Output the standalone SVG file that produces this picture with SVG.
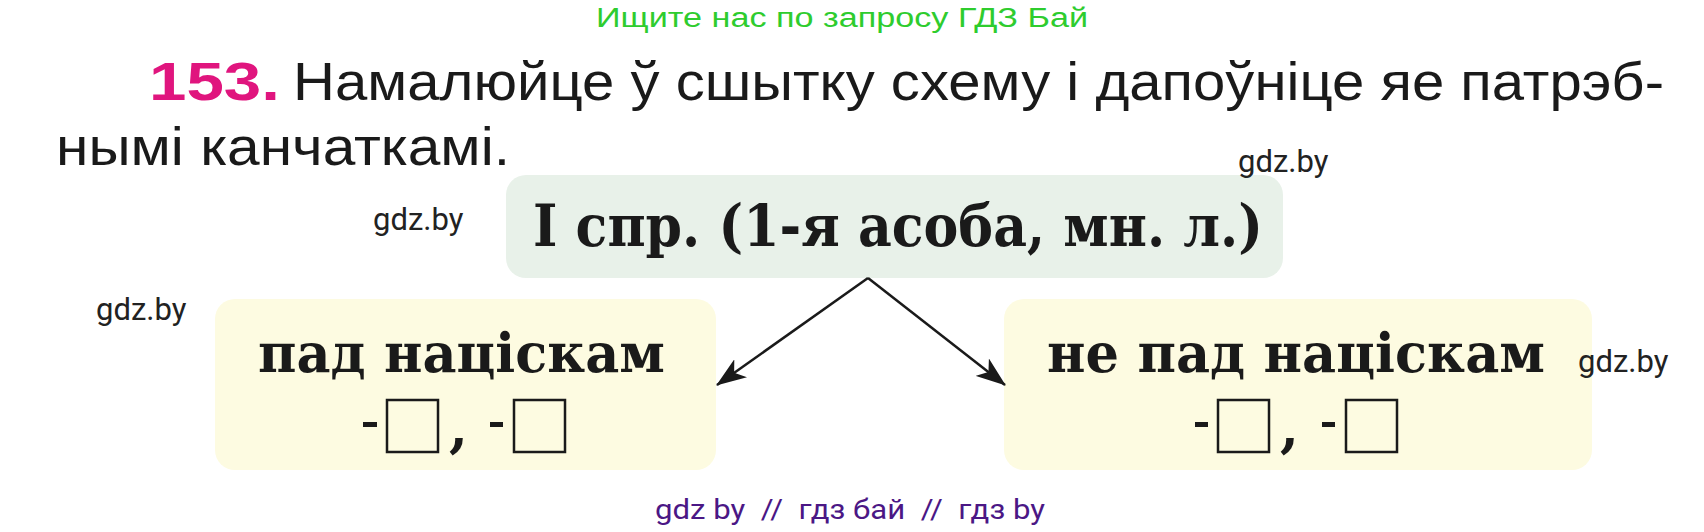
<svg xmlns="http://www.w3.org/2000/svg" width="1704" height="532" viewBox="0 0 1704 532">
<style>
.wm{font-family:Roboto,"Liberation Sans",sans-serif;font-size:31px;fill:#222}
.title{font-family:"Liberation Sans","Noto Sans",sans-serif;font-size:54px;fill:#1a1a1a}
.serif{font-family:"DejaVu Serif","Liberation Serif",serif;font-weight:bold;fill:#1a1a1a}
.sq{fill:none;stroke:#1a1a1a;stroke-width:2.5}
.dash{fill:#1a1a1a}
.conn{stroke:#1a1a1a;stroke-width:2.5;fill:none;marker-end:url(#ah)}
</style>
<defs>
<marker id="ah" markerWidth="30" markerHeight="22" refX="29" refY="11" orient="auto" markerUnits="userSpaceOnUse" viewBox="0 0 30 22">
<path d="M0,0 L30,11 L0,22 L8,11 Z" fill="#1a1a1a"/>
</marker>
</defs>
<rect width="1704" height="532" fill="#fff"/>
<text x="842" y="27" text-anchor="middle" font-family="'Liberation Sans',sans-serif" font-size="27" fill="#2ecc2e" textLength="492" lengthAdjust="spacingAndGlyphs">Ищите нас по запросу ГДЗ Бай</text>
<g id="heading">
<text x="149" y="100" font-family="'Liberation Sans',sans-serif" font-size="54" font-weight="bold" fill="#e0157e" textLength="131" lengthAdjust="spacingAndGlyphs">153.</text>
<text class="title" x="293" y="100" textLength="1371" lengthAdjust="spacingAndGlyphs">Намалюйце ў сшытку схему і дапоўніце яе патрэб-</text>
<text class="title" x="56" y="165" textLength="454" lengthAdjust="spacingAndGlyphs">нымі канчаткамі.</text>
</g>
<g id="node-top">
<rect x="506" y="175" width="777" height="103" rx="20" fill="#e8f1e9"/>
<text class="serif" x="533" y="246" font-size="57" textLength="730" lengthAdjust="spacingAndGlyphs">I спр. (1-я асоба, мн. л.)</text>
</g>
<g id="node-left">
<rect x="215" y="299" width="501" height="171" rx="20" fill="#fdfbe1"/>
<text class="serif" x="258" y="372" font-size="55" textLength="407" lengthAdjust="spacingAndGlyphs">пад націскам</text>
<rect class="dash" x="363" y="422" width="14" height="5"/>
<rect class="sq" x="387" y="400" width="51" height="52"/>
<text class="serif" x="449" y="446" font-size="55">,</text>
<rect class="dash" x="490" y="422" width="13" height="5"/>
<rect class="sq" x="514" y="400" width="51" height="52"/>
</g>
<g id="node-right">
<rect x="1004" y="299" width="588" height="171" rx="20" fill="#fdfbe1"/>
<text class="serif" x="1047" y="372" font-size="55" textLength="498" lengthAdjust="spacingAndGlyphs">не пад націскам</text>
<rect class="dash" x="1195" y="422" width="13" height="5"/>
<rect class="sq" x="1218" y="400" width="51" height="52"/>
<text class="serif" x="1280" y="446" font-size="55">,</text>
<rect class="dash" x="1322" y="422" width="13" height="5"/>
<rect class="sq" x="1346" y="400" width="51" height="52"/>
</g>
<g id="connectors">
<line class="conn" x1="868" y1="278" x2="717" y2="385"/>
<line class="conn" x1="868" y1="278" x2="1005" y2="385"/>
</g>
<g id="watermarks">
<text class="wm" x="1238" y="172">gdz.by</text>
<text class="wm" x="373" y="230">gdz.by</text>
<text class="wm" x="96" y="320">gdz.by</text>
<text class="wm" x="1578" y="372">gdz.by</text>
</g>
<text x="655" y="519" font-family="Roboto,'Liberation Sans',sans-serif" font-size="27" fill="#4b1785" textLength="390" lengthAdjust="spacingAndGlyphs" xml:space="preserve">gdz by  //  гдз бай  //  гдз by</text>
</svg>
